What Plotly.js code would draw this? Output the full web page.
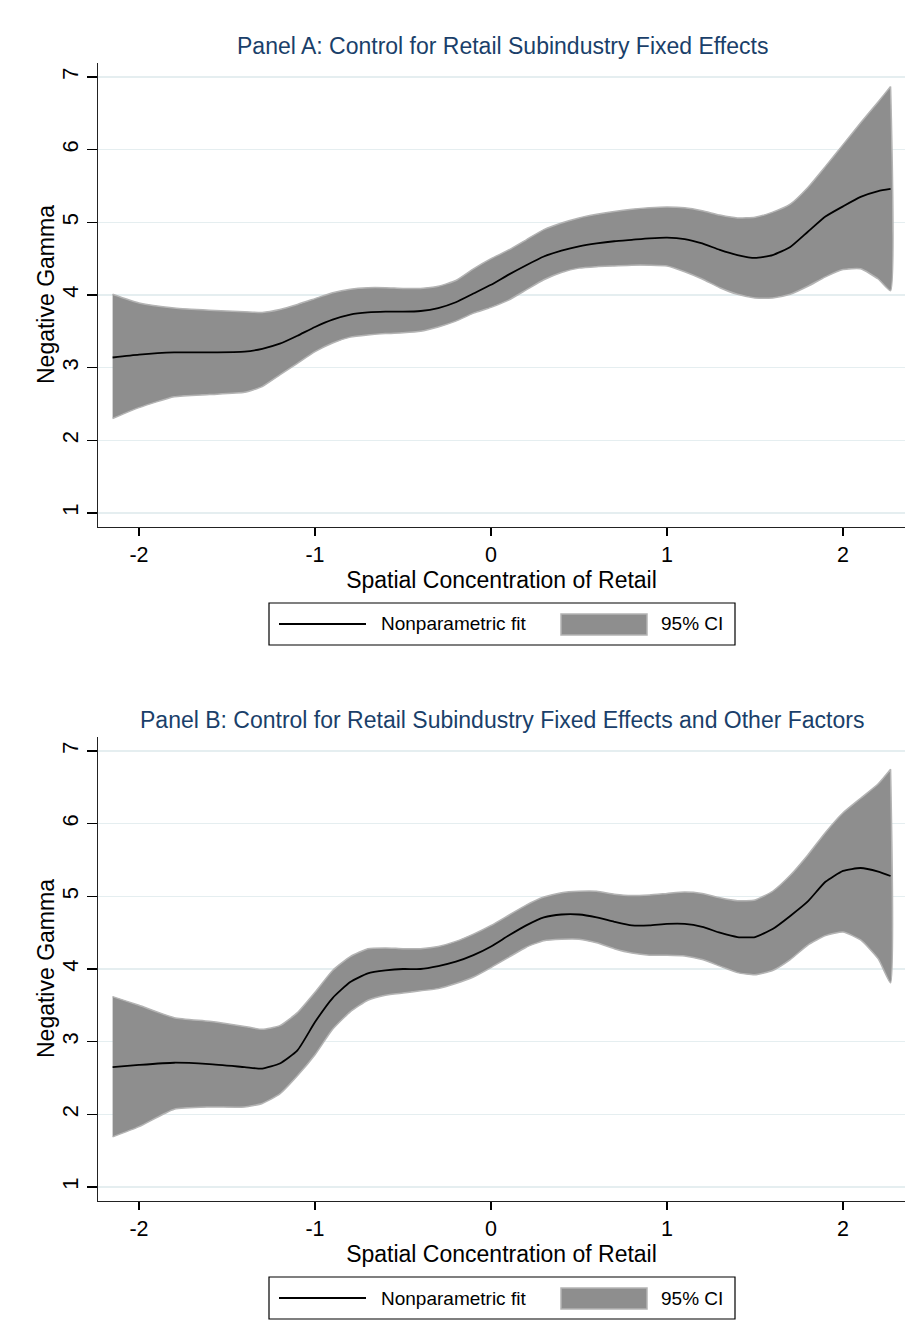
<!DOCTYPE html>
<html>
<head>
<meta charset="utf-8">
<script src="https://cdn.plot.ly/plotly-3.0.1.min.js"></script>
<style>html,body{margin:0;padding:0;background:#fff;}#chart{width:909px;height:1342px;}</style>
</head>
<body>
<div id="chart"></div>
<script>
// Shared x grid (Spatial Concentration of Retail)
const xGrid = [-2.15,-2.0,-1.8,-1.6,-1.4,-1.3,-1.2,-1.1,-1.0,-0.9,-0.8,-0.7,-0.6,-0.5,-0.4,-0.3,-0.2,-0.1,0,0.1,0.2,0.3,0.4,0.5,0.6,0.7,0.8,0.9,1.0,1.1,1.2,1.3,1.4,1.5,1.6,1.7,1.8,1.9,2.0,2.1,2.2,2.27];

// Panel A
const fitA   = [3.14,3.18,3.21,3.21,3.22,3.26,3.33,3.44,3.56,3.66,3.73,3.76,3.77,3.77,3.78,3.82,3.90,4.02,4.14,4.28,4.41,4.53,4.61,4.67,4.71,4.74,4.76,4.78,4.79,4.77,4.71,4.62,4.55,4.51,4.55,4.66,4.87,5.08,5.22,5.35,5.43,5.46];
const upperA = [4.01,3.89,3.82,3.79,3.77,3.76,3.80,3.87,3.95,4.03,4.08,4.10,4.10,4.09,4.09,4.12,4.20,4.36,4.50,4.62,4.76,4.90,4.99,5.06,5.11,5.15,5.18,5.20,5.21,5.20,5.16,5.10,5.06,5.07,5.14,5.25,5.48,5.77,6.07,6.37,6.66,6.87];
const lowerA = [2.30,2.45,2.60,2.63,2.66,2.74,2.90,3.06,3.22,3.34,3.42,3.45,3.47,3.48,3.50,3.56,3.64,3.75,3.83,3.93,4.07,4.21,4.31,4.37,4.39,4.40,4.41,4.41,4.40,4.32,4.22,4.10,4.01,3.96,3.96,4.01,4.12,4.25,4.35,4.36,4.22,4.06];

// Panel B
const fitB   = [2.65,2.68,2.71,2.69,2.65,2.63,2.70,2.88,3.27,3.60,3.82,3.94,3.98,4.00,4.00,4.04,4.10,4.19,4.31,4.46,4.60,4.71,4.75,4.75,4.71,4.65,4.60,4.60,4.62,4.62,4.58,4.50,4.44,4.44,4.55,4.73,4.93,5.20,5.35,5.39,5.34,5.28];
const upperB = [3.62,3.50,3.33,3.28,3.21,3.17,3.22,3.40,3.68,3.98,4.17,4.28,4.29,4.28,4.28,4.31,4.38,4.48,4.60,4.74,4.88,4.99,5.05,5.07,5.07,5.03,5.01,5.02,5.04,5.06,5.04,4.98,4.94,4.95,5.07,5.29,5.57,5.88,6.15,6.35,6.55,6.75];
const lowerB = [1.69,1.83,2.07,2.10,2.10,2.15,2.28,2.53,2.82,3.17,3.41,3.57,3.64,3.67,3.70,3.73,3.80,3.89,4.02,4.16,4.30,4.39,4.41,4.41,4.36,4.28,4.22,4.19,4.19,4.18,4.13,4.04,3.95,3.92,3.98,4.13,4.33,4.46,4.51,4.40,4.14,3.81];

const yTicks = [1,2,3,4,5,6,7];
const xTicks = [-2,-1,0,1,2];
const titleA = "Panel A: Control for Retail Subindustry Fixed Effects";
const titleB = "Panel B: Control for Retail Subindustry Fixed Effects and Other Factors";
const xTitle = "Spatial Concentration of Retail";
const yTitle = "Negative Gamma";
const legendLabels = ["Nonparametric fit", "95% CI"];

const FONT = "Liberation Sans, Arial, Helvetica, sans-serif";
const W = 909, H = 1342;
const py = v => 1 - v / H;
const px = v => v / W;

// Closed polygon: upper edge left->right, then lower edge right->left.
// End points are repeated so the spline keeps straight vertical end edges.
function band(xs, up, lo, xa, ya) {
  const n = xs.length;
  const rx = xs.slice().reverse(), rl = lo.slice().reverse();
  const bx = [xs[0]].concat(xs, [xs[n - 1]], rx, [rx[n - 1]]);
  const by = [up[0]].concat(up, [up[n - 1]], rl, [rl[n - 1]]);
  return {
    x: bx, y: by,
    type: 'scatter', mode: 'lines', fill: 'toself',
    fillcolor: '#8e8e8e',
    line: {color: '#b4b4b4', width: 1.5, shape: 'spline', smoothing: 0.5},
    xaxis: xa, yaxis: ya, showlegend: false, hoverinfo: 'skip'
  };
}
function fit(xs, ys, xa, ya) {
  return {
    x: xs, y: ys, type: 'scatter', mode: 'lines',
    line: {color: '#000', width: 1.8, shape: 'spline', smoothing: 0.5},
    xaxis: xa, yaxis: ya, showlegend: false, hoverinfo: 'skip'
  };
}

const data = [
  band(xGrid, upperA, lowerA, 'x', 'y'),
  fit(xGrid, fitA, 'x', 'y'),
  band(xGrid, upperB, lowerB, 'x2', 'y2'),
  fit(xGrid, fitB, 'x2', 'y2')
];

const xDom = [px(98), px(905)];
const domA = [py(527), py(63)];
const domB = [py(1201), py(737)];

function xAxis(anchor) {
  return {
    domain: xDom, anchor: anchor, range: [-2.233, 2.352],
    tickvals: xTicks, ticktext: xTicks.map(String),
    ticks: 'outside', ticklen: 8, tickwidth: 1.3, tickcolor: '#000',
    showline: true, linecolor: '#222', linewidth: 1.3,
    showgrid: false, zeroline: false,
    tickfont: {family: FONT, size: 21.5, color: '#000'},
    title: {text: xTitle, font: {family: FONT, size: 23, color: '#000'}, standoff: 1},
    fixedrange: true
  };
}
function yAxis(anchor, domain) {
  return {
    domain: domain, anchor: anchor, range: [0.807, 7.193],
    tickvals: yTicks, ticktext: yTicks.map(String),
    ticks: 'outside', ticklen: 10, tickwidth: 1.3, tickcolor: '#000',
    tickangle: -90,
    showline: true, linecolor: '#222', linewidth: 1.3,
    showgrid: true, gridcolor: '#e5eef0', gridwidth: 1.2,
    zeroline: false,
    tickfont: {family: FONT, size: 22, color: '#000'},
    fixedrange: true
  };
}

function legendParts(top) {
  const shapes = [
    {type: 'rect', xref: 'paper', yref: 'paper', x0: px(269), x1: px(735), y0: py(top), y1: py(top + 42),
     line: {color: '#000', width: 1.2}, fillcolor: 'rgba(0,0,0,0)'},
    {type: 'line', xref: 'paper', yref: 'paper', x0: px(279), x1: px(366), y0: py(top + 21), y1: py(top + 21),
     line: {color: '#000', width: 1.8}},
    {type: 'rect', xref: 'paper', yref: 'paper', x0: px(561), x1: px(647), y0: py(top + 11), y1: py(top + 32),
     line: {color: '#b4b4b4', width: 1.5}, fillcolor: '#8e8e8e'}
  ];
  const ann = [
    {xref: 'paper', yref: 'paper', x: px(379), y: py(top + 21), xanchor: 'left', yanchor: 'middle',
     text: legendLabels[0], showarrow: false, font: {family: FONT, size: 19, color: '#000'}},
    {xref: 'paper', yref: 'paper', x: px(659), y: py(top + 21), xanchor: 'left', yanchor: 'middle',
     text: legendLabels[1], showarrow: false, font: {family: FONT, size: 19, color: '#000'}}
  ];
  return {shapes, ann};
}
const legA = legendParts(603);
const legB = legendParts(1277);

function yTitleAnn(cy) {
  return {xref: 'paper', yref: 'paper', x: px(46), y: py(cy), xanchor: 'center', yanchor: 'middle',
    textangle: -90, text: yTitle, showarrow: false, font: {family: FONT, size: 23, color: '#000'}};
}

const layout = {
  width: W, height: H, autosize: false,
  margin: {l: 0, r: 0, t: 0, b: 0},
  paper_bgcolor: '#fff', plot_bgcolor: '#fff',
  showlegend: false,
  font: {family: FONT},
  xaxis: xAxis('y'),
  yaxis: yAxis('x', domA),
  xaxis2: xAxis('y2'),
  yaxis2: yAxis('x2', domB),
  shapes: legA.shapes.concat(legB.shapes),
  annotations: [
    {xref: 'paper', yref: 'paper', x: px(502), y: py(46), xanchor: 'center', yanchor: 'middle',
     text: titleA, showarrow: false, font: {family: FONT, size: 23, color: '#1a3f6a'}},
    {xref: 'paper', yref: 'paper', x: px(502), y: py(720), xanchor: 'center', yanchor: 'middle',
     text: titleB, showarrow: false, font: {family: FONT, size: 23, color: '#1a3f6a'}},
    yTitleAnn(295), yTitleAnn(969)
  ].concat(legA.ann, legB.ann)
};

Plotly.newPlot('chart', data, layout, {displayModeBar: false, staticPlot: true});
</script>
</body>
</html>
